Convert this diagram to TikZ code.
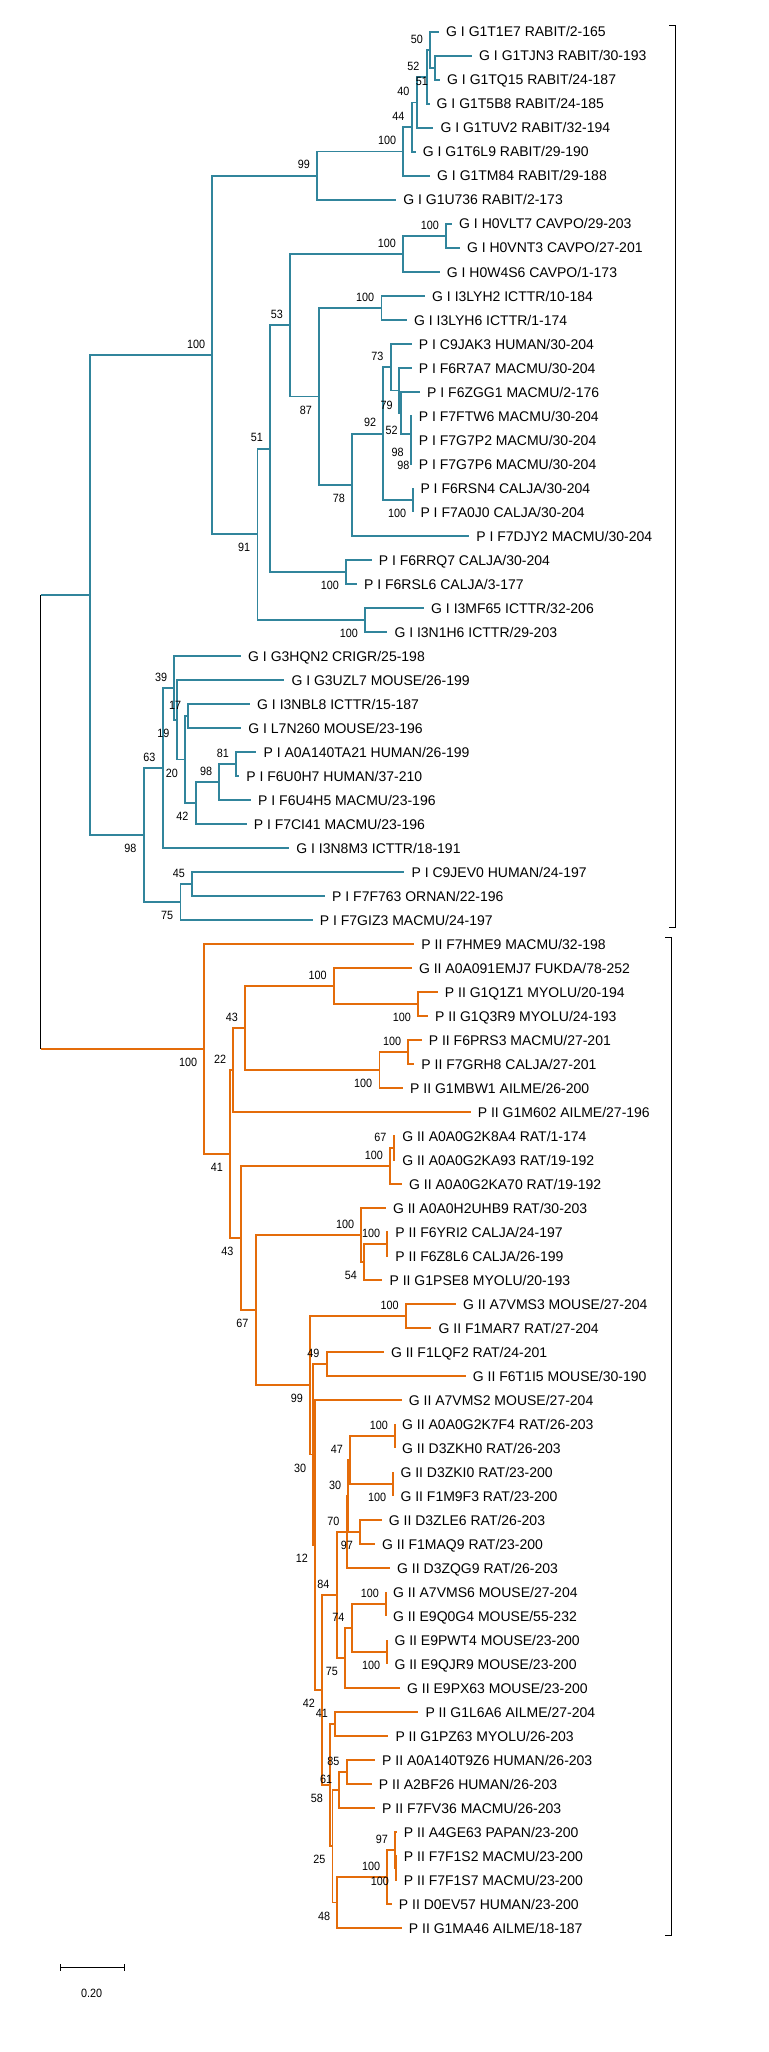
\documentclass[tikz,border=0pt]{standalone}
\usepackage{fontspec}
\setmainfont{Liberation Sans}
\newfontfamily\bsfam[FakeStretch=0.9]{Liberation Sans}
\newcommand{\lffont}{\fontsize{14}{14}\selectfont}
\newcommand{\bsfnt}{\bsfam\fontsize{12}{12}\selectfont}
\definecolor{tblue}{HTML}{31859C}
\definecolor{torange}{HTML}{E46C0A}
\begin{document}
\begin{tikzpicture}[x=1pt,y=-1pt,
  br/.style={line width=1.8pt},
  blu/.style={br, draw=tblue},
  org/.style={br, draw=torange},
  leaf/.style={anchor=base west, inner sep=0pt, xshift=7pt, yshift=-5pt, font=\lffont},
  bsa/.style={anchor=east, inner sep=0pt, xshift=-7pt, yshift=11pt, font=\bsfnt},
  bsb/.style={anchor=east, inner sep=0pt, xshift=-7pt, yshift=-13.5pt, font=\bsfnt},
  bsc/.style={anchor=center, inner sep=0pt, font=\bsfnt},
  thin/.style={line width=0.9pt, draw=black}]
\useasboundingbox (0,0) rectangle (768,2052);
\fill[white] (0,0) rectangle (768,2052);
% ---------------- leaves ----------------
\coordinate (l1) at (439,32);
\coordinate (l2) at (472,56);
\coordinate (l3) at (440,80);
\coordinate (l4) at (429.5,104);
\coordinate (l5) at (433.3,128);
\coordinate (l6) at (415.7,152);
\coordinate (l7) at (430,176);
\coordinate (l8) at (396.1,200);
\coordinate (l9) at (452,224);
\coordinate (l10) at (459.8,248);
\coordinate (l11) at (439.7,272);
\coordinate (l12) at (425,296);
\coordinate (l13) at (406.9,320);
\coordinate (l14) at (411.7,344);
\coordinate (l15) at (411.7,368);
\coordinate (l16) at (420,392);
\coordinate (l17) at (411.7,416);
\coordinate (l18) at (411.7,440);
\coordinate (l19) at (411.7,464);
\coordinate (l20) at (413.3,488);
\coordinate (l21) at (413.3,512);
\coordinate (l22) at (469.1,536);
\coordinate (l23) at (371.6,560);
\coordinate (l24) at (356.9,584);
\coordinate (l25) at (424,608);
\coordinate (l26) at (387.3,632);
\coordinate (l27) at (241,656);
\coordinate (l28) at (284.3,680);
\coordinate (l29) at (250,704);
\coordinate (l30) at (241.2,728);
\coordinate (l31) at (256.4,752);
\coordinate (l32) at (239.2,776);
\coordinate (l33) at (251,800);
\coordinate (l34) at (246.6,824);
\coordinate (l35) at (289.2,848);
\coordinate (l36) at (404.4,872);
\coordinate (l37) at (325,896);
\coordinate (l38) at (312.7,920);
\coordinate (l39) at (414.2,944);
\coordinate (l40) at (411.8,968);
\coordinate (l41) at (437.7,992);
\coordinate (l42) at (428,1016);
\coordinate (l43) at (421.6,1040);
\coordinate (l44) at (414.2,1064);
\coordinate (l45) at (403,1088);
\coordinate (l46) at (470.6,1112);
\coordinate (l47) at (395.1,1136);
\coordinate (l48) at (395.1,1160);
\coordinate (l49) at (402,1184);
\coordinate (l50) at (385.8,1208);
\coordinate (l51) at (388.2,1232);
\coordinate (l52) at (388.2,1256);
\coordinate (l53) at (382.4,1280);
\coordinate (l54) at (455.9,1304);
\coordinate (l55) at (431.4,1328);
\coordinate (l56) at (383.8,1352);
\coordinate (l57) at (465.7,1376);
\coordinate (l58) at (401.7,1400);
\coordinate (l59) at (395,1424);
\coordinate (l60) at (395,1448);
\coordinate (l61) at (393.3,1472);
\coordinate (l62) at (393.3,1496);
\coordinate (l63) at (381.7,1520);
\coordinate (l64) at (375,1544);
\coordinate (l65) at (390,1568);
\coordinate (l66) at (386,1592);
\coordinate (l67) at (386,1616);
\coordinate (l68) at (387.3,1640);
\coordinate (l69) at (387.3,1664);
\coordinate (l70) at (400,1688);
\coordinate (l71) at (418.3,1712);
\coordinate (l72) at (388.3,1736);
\coordinate (l73) at (375,1760);
\coordinate (l74) at (371.7,1784);
\coordinate (l75) at (375,1808);
\coordinate (l76) at (396.7,1832);
\coordinate (l77) at (396.7,1856);
\coordinate (l78) at (396.7,1880);
\coordinate (l79) at (391.7,1904);
\coordinate (l80) at (401.7,1928);
% ---------------- internal nodes: blue ----------------
\coordinate (n23) at (435,68);
\coordinate (nA) at (430,50);
\coordinate (nB) at (426.7,77);
\coordinate (nC) at (416.7,102.5);
\coordinate (nD) at (411.7,127.25);
\coordinate (nE) at (403.3,151.6);
\coordinate (nF) at (317.2,175.8);
\coordinate (n910) at (446.1,236);
\coordinate (nH) at (403,254);
\coordinate (n1213) at (381.4,308);
\coordinate (nN2) at (411.3,452);
\coordinate (nN) at (410.7,434);
\coordinate (nM) at (400.7,413);
\coordinate (nL) at (399.3,390.5);
\coordinate (nK) at (390.7,367.25);
\coordinate (n2021) at (413.3,500);
\coordinate (nJ) at (383.3,433.6);
\coordinate (n718) at (352,484.8);
\coordinate (nI) at (319.1,396.4);
\coordinate (nG) at (290.2,325.2);
\coordinate (n2324) at (346.1,572);
\coordinate (n551) at (270.1,448.6);
\coordinate (n2526) at (365.2,620);
\coordinate (n525) at (257.4,534.3);
\coordinate (n433) at (212.3,355.05);
\coordinate (n2930) at (188.3,716);
\coordinate (n3132) at (236,764);
\coordinate (n449) at (219.3,782);
\coordinate (n400) at (195.7,803);
\coordinate (n378) at (185,759.5);
\coordinate (n362) at (176.7,719.75);
\coordinate (n357) at (174.3,687.9);
\coordinate (n332) at (162.7,767.9);
\coordinate (n3637) at (192.2,884);
\coordinate (n368) at (180.4,902);
\coordinate (n293) at (143.6,835);
\coordinate (n183) at (89.7,595);
% ---------------- internal nodes: orange ----------------
\coordinate (n4142) at (418.1,1004);
\coordinate (n681) at (333.8,986);
\coordinate (n4344) at (408.3,1052);
\coordinate (n774) at (379.4,1070);
\coordinate (n500) at (245,1028);
\coordinate (n478) at (233.3,1070);
\coordinate (n4748) at (393.6,1148);
\coordinate (n796) at (390.2,1166);
\coordinate (n5152) at (387.3,1244);
\coordinate (n743) at (364.2,1262);
\coordinate (n737) at (361.3,1235);
\coordinate (n5455) at (405.9,1316);
\coordinate (n5657) at (326.7,1364);
\coordinate (n5960) at (395,1436);
\coordinate (n6162) at (393.3,1484);
\coordinate (nP4) at (350,1460);
\coordinate (n6364) at (360,1532);
\coordinate (nP5) at (348.3,1496);
\coordinate (nP6) at (346.7,1532);
\coordinate (n6667) at (386,1604);
\coordinate (n6869) at (387.3,1652);
\coordinate (n6669) at (351.7,1628);
\coordinate (nM5) at (345,1658);
\coordinate (nV2) at (336.7,1595);
\coordinate (n7172) at (335,1724);
\coordinate (n7374) at (346.7,1772);
\coordinate (n7375) at (339.3,1790);
\coordinate (nQ1) at (396,1868);
\coordinate (nQ2) at (395,1850);
\coordinate (nQ3) at (387.3,1877);
\coordinate (nQ4) at (337.3,1902.5);
\coordinate (nR2) at (332.5,1846.25);
\coordinate (nW) at (330,1785.1);
\coordinate (nU) at (322,1690);
\coordinate (nT) at (315,1545);
\coordinate (nS) at (313.3,1454.5);
\coordinate (n632) at (310,1385.25);
\coordinate (n523) at (255.7,1310.1);
\coordinate (n492) at (240.7,1238);
\coordinate (n470) at (230,1154);
\coordinate (n417) at (204.3,1049);
% root
\coordinate (rtop) at (40.7,595);
\coordinate (rbot) at (40.7,1049);
% ---------------- branches: blue ----------------
\draw[blu] (n23) |- (l2); \draw[blu] (n23) |- (l3);
\draw[blu] (nA) |- (l1); \draw[blu] (nA) |- (n23);
\draw[blu] (nB) |- (nA); \draw[blu] (nB) |- (l4);
\draw[blu] (nC) |- (nB); \draw[blu] (nC) |- (l5);
\draw[blu] (nD) |- (nC); \draw[blu] (nD) |- (l6);
\draw[blu] (nE) |- (nD); \draw[blu] (nE) |- (l7);
\draw[blu] (nF) |- (nE); \draw[blu] (nF) |- (l8);
\draw[blu] (n910) |- (l9); \draw[blu] (n910) |- (l10);
\draw[blu] (nH) |- (n910); \draw[blu] (nH) |- (l11);
\draw[blu] (n1213) |- (l12); \draw[blu] (n1213) |- (l13);
\draw[blu] (nN2) |- (l18); \draw[blu] (nN2) |- (l19);
\draw[blu] (nN) |- (l17); \draw[blu] (nN) |- (nN2);
\draw[blu] (nM) |- (l16); \draw[blu] (nM) |- (nN);
\draw[blu] (nL) |- (l15); \draw[blu] (nL) |- (nM);
\draw[blu] (nK) |- (l14); \draw[blu] (nK) |- (nL);
\draw[blu] (n2021) |- (l20); \draw[blu] (n2021) |- (l21);
\draw[blu] (nJ) |- (nK); \draw[blu] (nJ) |- (n2021);
\draw[blu] (n718) |- (nJ); \draw[blu] (n718) |- (l22);
\draw[blu] (nI) |- (n1213); \draw[blu] (nI) |- (n718);
\draw[blu] (nG) |- (nH); \draw[blu] (nG) |- (nI);
\draw[blu] (n2324) |- (l23); \draw[blu] (n2324) |- (l24);
\draw[blu] (n551) |- (nG); \draw[blu] (n551) |- (n2324);
\draw[blu] (n2526) |- (l25); \draw[blu] (n2526) |- (l26);
\draw[blu] (n525) |- (n551); \draw[blu] (n525) |- (n2526);
\draw[blu] (n433) |- (nF); \draw[blu] (n433) |- (n525);
\draw[blu] (n2930) |- (l29); \draw[blu] (n2930) |- (l30);
\draw[blu] (n3132) |- (l31); \draw[blu] (n3132) |- (l32);
\draw[blu] (n449) |- (n3132); \draw[blu] (n449) |- (l33);
\draw[blu] (n400) |- (n449); \draw[blu] (n400) |- (l34);
\draw[blu] (n378) |- (n2930); \draw[blu] (n378) |- (n400);
\draw[blu] (n362) |- (l28); \draw[blu] (n362) |- (n378);
\draw[blu] (n357) |- (l27); \draw[blu] (n357) |- (n362);
\draw[blu] (n332) |- (n357); \draw[blu] (n332) |- (l35);
\draw[blu] (n3637) |- (l36); \draw[blu] (n3637) |- (l37);
\draw[blu] (n368) |- (n3637); \draw[blu] (n368) |- (l38);
\draw[blu] (n293) |- (n332); \draw[blu] (n293) |- (n368);
\draw[blu] (n183) |- (n433); \draw[blu] (n183) |- (n293);
% ---------------- branches: orange ----------------
\draw[org] (n4142) |- (l41); \draw[org] (n4142) |- (l42);
\draw[org] (n681) |- (l40); \draw[org] (n681) |- (n4142);
\draw[org] (n4344) |- (l43); \draw[org] (n4344) |- (l44);
\draw[org] (n774) |- (n4344); \draw[org] (n774) |- (l45);
\draw[org] (n500) |- (n681); \draw[org] (n500) |- (n774);
\draw[org] (n478) |- (n500); \draw[org] (n478) |- (l46);
\draw[org] (n4748) |- (l47); \draw[org] (n4748) |- (l48);
\draw[org] (n796) |- (n4748); \draw[org] (n796) |- (l49);
\draw[org] (n5152) |- (l51); \draw[org] (n5152) |- (l52);
\draw[org] (n743) |- (n5152); \draw[org] (n743) |- (l53);
\draw[org] (n737) |- (l50); \draw[org] (n737) |- (n743);
\draw[org] (n5455) |- (l54); \draw[org] (n5455) |- (l55);
\draw[org] (n5657) |- (l56); \draw[org] (n5657) |- (l57);
\draw[org] (n5960) |- (l59); \draw[org] (n5960) |- (l60);
\draw[org] (n6162) |- (l61); \draw[org] (n6162) |- (l62);
\draw[org] (nP4) |- (n5960); \draw[org] (nP4) |- (n6162);
\draw[org] (n6364) |- (l63); \draw[org] (n6364) |- (l64);
\draw[org] (nP5) |- (nP4); \draw[org] (nP5) |- (n6364);
\draw[org] (nP6) |- (nP5); \draw[org] (nP6) |- (l65);
\draw[org] (n6667) |- (l66); \draw[org] (n6667) |- (l67);
\draw[org] (n6869) |- (l68); \draw[org] (n6869) |- (l69);
\draw[org] (n6669) |- (n6667); \draw[org] (n6669) |- (n6869);
\draw[org] (nM5) |- (n6669); \draw[org] (nM5) |- (l70);
\draw[org] (nV2) |- (nP6); \draw[org] (nV2) |- (nM5);
\draw[org] (n7172) |- (l71); \draw[org] (n7172) |- (l72);
\draw[org] (n7374) |- (l73); \draw[org] (n7374) |- (l74);
\draw[org] (n7375) |- (n7374); \draw[org] (n7375) |- (l75);
\draw[org] (nQ1) |- (l77); \draw[org] (nQ1) |- (l78);
\draw[org] (nQ2) |- (l76); \draw[org] (nQ2) |- (nQ1);
\draw[org] (nQ3) |- (nQ2); \draw[org] (nQ3) |- (l79);
\draw[org] (nQ4) |- (nQ3); \draw[org] (nQ4) |- (l80);
\draw[org] (nR2) |- (n7375); \draw[org] (nR2) |- (nQ4);
\draw[org] (nW) |- (n7172); \draw[org] (nW) |- (nR2);
\draw[org] (nU) |- (nV2); \draw[org] (nU) |- (nW);
\draw[org] (nT) |- (l58); \draw[org] (nT) |- (nU);
\draw[org] (nS) |- (n5657); \draw[org] (nS) |- (nT);
\draw[org] (n632) |- (n5455); \draw[org] (n632) |- (nS);
\draw[org] (n523) |- (n737); \draw[org] (n523) |- (n632);
\draw[org] (n492) |- (n796); \draw[org] (n492) |- (n523);
\draw[org] (n470) |- (n478); \draw[org] (n470) |- (n492);
\draw[org] (n417) |- (l39); \draw[org] (n417) |- (n470);
% ---------------- root ----------------
\draw[thin] (rtop) -- (rbot);
\draw[blu] (rtop) -- (n183);
\draw[org] (rbot) -- (n417);
% ---------------- leaf labels ----------------
\node[leaf] (t1) at (l1) {G I G1T1E7 RABIT/2-165};
\node[leaf] (t2) at (l2) {G I G1TJN3 RABIT/30-193};
\node[leaf] (t3) at (l3) {G I G1TQ15 RABIT/24-187};
\node[leaf] (t4) at (l4) {G I G1T5B8 RABIT/24-185};
\node[leaf] (t5) at (l5) {G I G1TUV2 RABIT/32-194};
\node[leaf] (t6) at (l6) {G I G1T6L9 RABIT/29-190};
\node[leaf] (t7) at (l7) {G I G1TM84 RABIT/29-188};
\node[leaf] (t8) at (l8) {G I G1U736 RABIT/2-173};
\node[leaf] (t9) at (l9) {G I H0VLT7 CAVPO/29-203};
\node[leaf] (t10) at (l10) {G I H0VNT3 CAVPO/27-201};
\node[leaf] (t11) at (l11) {G I H0W4S6 CAVPO/1-173};
\node[leaf] (t12) at (l12) {G I I3LYH2 ICTTR/10-184};
\node[leaf] (t13) at (l13) {G I I3LYH6 ICTTR/1-174};
\node[leaf] (t14) at (l14) {P I C9JAK3 HUMAN/30-204};
\node[leaf] (t15) at (l15) {P I F6R7A7 MACMU/30-204};
\node[leaf] (t16) at (l16) {P I F6ZGG1 MACMU/2-176};
\node[leaf] (t17) at (l17) {P I F7FTW6 MACMU/30-204};
\node[leaf] (t18) at (l18) {P I F7G7P2 MACMU/30-204};
\node[leaf] (t19) at (l19) {P I F7G7P6 MACMU/30-204};
\node[leaf] (t20) at (l20) {P I F6RSN4 CALJA/30-204};
\node[leaf] (t21) at (l21) {P I F7A0J0 CALJA/30-204};
\node[leaf] (t22) at (l22) {P I F7DJY2 MACMU/30-204};
\node[leaf] (t23) at (l23) {P I F6RRQ7 CALJA/30-204};
\node[leaf] (t24) at (l24) {P I F6RSL6 CALJA/3-177};
\node[leaf] (t25) at (l25) {G I I3MF65 ICTTR/32-206};
\node[leaf] (t26) at (l26) {G I I3N1H6 ICTTR/29-203};
\node[leaf] (t27) at (l27) {G I G3HQN2 CRIGR/25-198};
\node[leaf] (t28) at (l28) {G I G3UZL7 MOUSE/26-199};
\node[leaf] (t29) at (l29) {G I I3NBL8 ICTTR/15-187};
\node[leaf] (t30) at (l30) {G I L7N260 MOUSE/23-196};
\node[leaf] (t31) at (l31) {P I A0A140TA21 HUMAN/26-199};
\node[leaf] (t32) at (l32) {P I F6U0H7 HUMAN/37-210};
\node[leaf] (t33) at (l33) {P I F6U4H5 MACMU/23-196};
\node[leaf] (t34) at (l34) {P I F7CI41 MACMU/23-196};
\node[leaf] (t35) at (l35) {G I I3N8M3 ICTTR/18-191};
\node[leaf] (t36) at (l36) {P I C9JEV0 HUMAN/24-197};
\node[leaf] (t37) at (l37) {P I F7F763 ORNAN/22-196};
\node[leaf] (t38) at (l38) {P I F7GIZ3 MACMU/24-197};
\node[leaf] (t39) at (l39) {P II F7HME9 MACMU/32-198};
\node[leaf] (t40) at (l40) {G II A0A091EMJ7 FUKDA/78-252};
\node[leaf] (t41) at (l41) {P II G1Q1Z1 MYOLU/20-194};
\node[leaf] (t42) at (l42) {P II G1Q3R9 MYOLU/24-193};
\node[leaf] (t43) at (l43) {P II F6PRS3 MACMU/27-201};
\node[leaf] (t44) at (l44) {P II F7GRH8 CALJA/27-201};
\node[leaf] (t45) at (l45) {P II G1MBW1 AILME/26-200};
\node[leaf] (t46) at (l46) {P II G1M602 AILME/27-196};
\node[leaf] (t47) at (l47) {G II A0A0G2K8A4 RAT/1-174};
\node[leaf] (t48) at (l48) {G II A0A0G2KA93 RAT/19-192};
\node[leaf] (t49) at (l49) {G II A0A0G2KA70 RAT/19-192};
\node[leaf] (t50) at (l50) {G II A0A0H2UHB9 RAT/30-203};
\node[leaf] (t51) at (l51) {P II F6YRI2 CALJA/24-197};
\node[leaf] (t52) at (l52) {P II F6Z8L6 CALJA/26-199};
\node[leaf] (t53) at (l53) {P II G1PSE8 MYOLU/20-193};
\node[leaf] (t54) at (l54) {G II A7VMS3 MOUSE/27-204};
\node[leaf] (t55) at (l55) {G II F1MAR7 RAT/27-204};
\node[leaf] (t56) at (l56) {G II F1LQF2 RAT/24-201};
\node[leaf] (t57) at (l57) {G II F6T1I5 MOUSE/30-190};
\node[leaf] (t58) at (l58) {G II A7VMS2 MOUSE/27-204};
\node[leaf] (t59) at (l59) {G II A0A0G2K7F4 RAT/26-203};
\node[leaf] (t60) at (l60) {G II D3ZKH0 RAT/26-203};
\node[leaf] (t61) at (l61) {G II D3ZKI0 RAT/23-200};
\node[leaf] (t62) at (l62) {G II F1M9F3 RAT/23-200};
\node[leaf] (t63) at (l63) {G II D3ZLE6 RAT/26-203};
\node[leaf] (t64) at (l64) {G II F1MAQ9 RAT/23-200};
\node[leaf] (t65) at (l65) {G II D3ZQG9 RAT/26-203};
\node[leaf] (t66) at (l66) {G II A7VMS6 MOUSE/27-204};
\node[leaf] (t67) at (l67) {G II E9Q0G4 MOUSE/55-232};
\node[leaf] (t68) at (l68) {G II E9PWT4 MOUSE/23-200};
\node[leaf] (t69) at (l69) {G II E9QJR9 MOUSE/23-200};
\node[leaf] (t70) at (l70) {G II E9PX63 MOUSE/23-200};
\node[leaf] (t71) at (l71) {P II G1L6A6 AILME/27-204};
\node[leaf] (t72) at (l72) {P II G1PZ63 MYOLU/26-203};
\node[leaf] (t73) at (l73) {P II A0A140T9Z6 HUMAN/26-203};
\node[leaf] (t74) at (l74) {P II A2BF26 HUMAN/26-203};
\node[leaf] (t75) at (l75) {P II F7FV36 MACMU/26-203};
\node[leaf] (t76) at (l76) {P II A4GE63 PAPAN/23-200};
\node[leaf] (t77) at (l77) {P II F7F1S2 MACMU/23-200};
\node[leaf] (t78) at (l78) {P II F7F1S7 MACMU/23-200};
\node[leaf] (t79) at (l79) {P II D0EV57 HUMAN/23-200};
\node[leaf] (t80) at (l80) {P II G1MA46 AILME/18-187};
% ---------------- bootstrap values: blue ----------------
\node[bsa] (bA) at (nA) {50};
\node[bsb] (b23) at (n23) {51};
\node[bsa] (bB) at (nB) {52};
\node[bsa] (bC) at (nC) {40};
\node[bsa] (bD) at (nD) {44};
\node[bsa] (bE) at (nE) {100};
\node[bsa] (bF) at (nF) {99};
\node[bsa] (b433) at (n433) {100};
\node[bsa] (b910) at (n910) {100};
\node[bsa] (bH) at (nH) {100};
\node[bsa] (b1213) at (n1213) {100};
\node[bsa] (bG) at (nG) {53};
\node[bsb] (bI) at (nI) {87};
\node[bsb] (b718) at (n718) {78};
\node[bsa] (bJ) at (nJ) {92};
\node[bsa] (bK) at (nK) {73};
\node[bsc] (bL) at (386.7,405.7) {79};
\node[bsc] (bM) at (391.7,430) {52};
\node[bsc] (bN) at (397.7,452.3) {98};
\node[bsc] (bN2) at (403.3,465) {98};
\node[bsb] (b2021) at (n2021) {100};
\node[bsa] (b551) at (n551) {51};
\node[bsb] (b525) at (n525) {91};
\node[bsb] (b2324) at (n2324) {100};
\node[bsb] (b2526) at (n2526) {100};
\node[bsa] (b357) at (n357) {39};
\node[bsa] (b2930) at (n2930) {17};
\node[bsb] (b362) at (n362) {19};
\node[bsa] (b332) at (n332) {63};
\node[bsb] (b378) at (n378) {20};
\node[bsa] (b3132) at (n3132) {81};
\node[bsa] (b449) at (n449) {98};
\node[bsb] (b400) at (n400) {42};
\node[bsb] (b293) at (n293) {98};
\node[bsa] (b3637) at (n3637) {45};
\node[bsb] (b368) at (n368) {75};
% ---------------- bootstrap values: orange ----------------
\node[bsb] (b417) at (n417) {100};
\node[bsa] (b681) at (n681) {100};
\node[bsb] (b4142) at (n4142) {100};
\node[bsa] (b500) at (n500) {43};
\node[bsa] (b4344) at (n4344) {100};
\node[bsb] (b774) at (n774) {100};
\node[bsa] (b478) at (n478) {22};
\node[bsb] (b470) at (n470) {41};
\node[bsa] (b4748) at (n4748) {67};
\node[bsa] (b796) at (n796) {100};
\node[bsb] (b492) at (n492) {43};
\node[bsa] (b737) at (n737) {100};
\node[bsa] (b5152) at (n5152) {100};
\node[bsb] (b743) at (n743) {54};
\node[bsb] (b523) at (n523) {67};
\node[bsa] (b5455) at (n5455) {100};
\node[bsa] (b5657) at (n5657) {49};
\node[bsb] (b632) at (n632) {99};
\node[bsb] (bS) at (nS) {30};
\node[bsb] (bT) at (nT) {12};
\node[bsb] (bU) at (nU) {42};
\node[bsa] (bV2) at (nV2) {84};
\node[bsa] (bP6) at (nP6) {70};
\node[bsa] (bP5) at (nP5) {30};
\node[bsa] (bP4) at (nP4) {47};
\node[bsa] (b5960) at (n5960) {100};
\node[bsb] (b6162) at (n6162) {100};
\node[bsb] (b6364) at (n6364) {97};
\node[bsa] (b6667) at (n6667) {100};
\node[bsb] (b6869) at (n6869) {100};
\node[bsa] (b6669) at (n6669) {74};
\node[bsb] (bM5) at (nM5) {75};
\node[bsb] (bW) at (nW) {58};
\node[bsa] (b7172) at (n7172) {41};
\node[bsb] (bR2) at (nR2) {25};
\node[bsa] (b7375) at (n7375) {61};
\node[bsa] (b7374) at (n7374) {85};
\node[bsb] (bQ4) at (nQ4) {48};
\node[bsa] (bQ3) at (nQ3) {100};
\node[bsa] (bQ2) at (nQ2) {97};
\node[bsb] (bQ1) at (nQ1) {100};
% ---------------- group brackets ----------------
\coordinate (k1a) at (675.5,25);
\coordinate (k1b) at (675.5,927);
\coordinate (k2a) at (671.6,937.3);
\coordinate (k2b) at (671.6,1935);
\draw[thin] ([xshift=-6.5pt]k1a) -- (k1a) -- (k1b) -- ([xshift=-6.5pt]k1b);
\draw[thin] ([xshift=-6.5pt]k2a) -- (k2a) -- (k2b) -- ([xshift=-6.5pt]k2b);
% ---------------- scale bar ----------------
\coordinate (sb1) at (60.3,1967.7);
\coordinate (sb2) at (124.5,1967.7);
\draw[thin] (sb1) -- (sb2);
\draw[thin] ([yshift=3.5pt]sb1) -- ([yshift=-3.5pt]sb1);
\draw[thin] ([yshift=3.5pt]sb2) -- ([yshift=-3.5pt]sb2);
\node[bsc] (sbl) at (91.7,1993.3) {0.20};
\end{tikzpicture}
\end{document}
